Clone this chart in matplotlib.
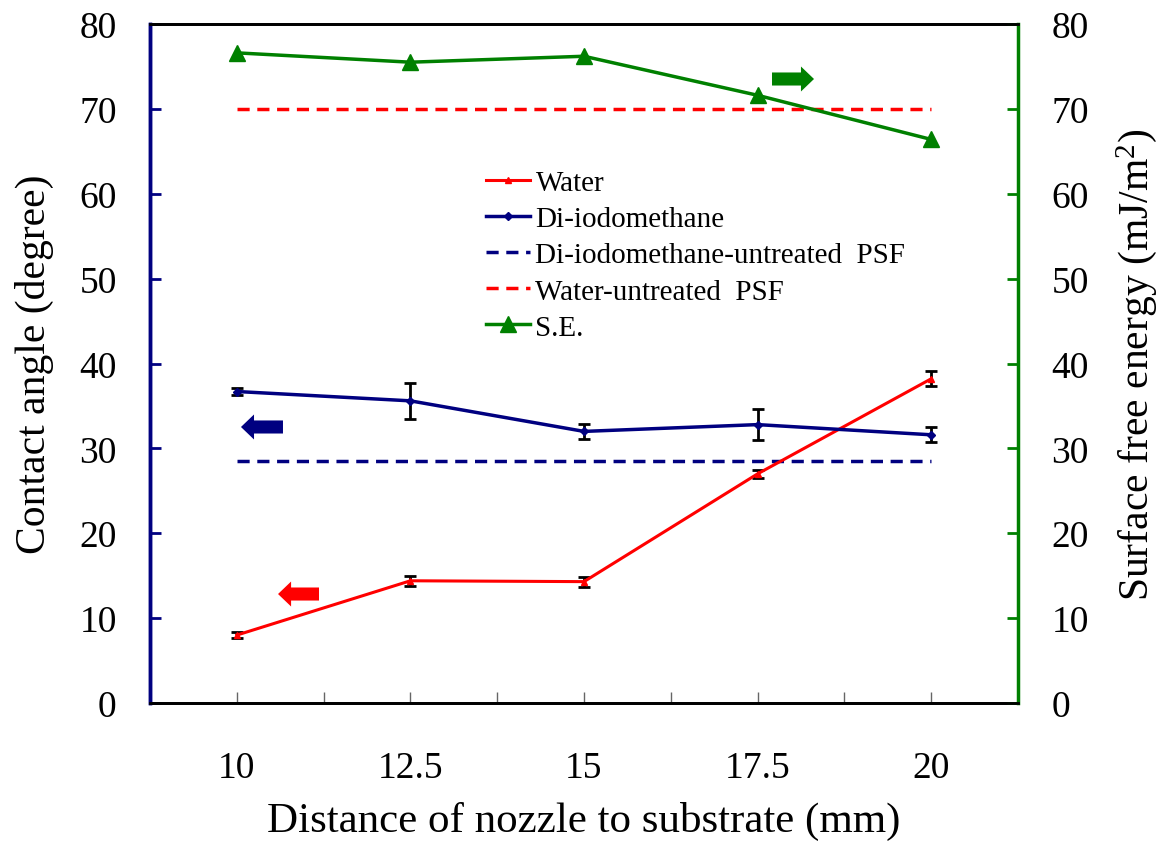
import matplotlib
matplotlib.use("Agg")
import matplotlib.pyplot as plt
from matplotlib.lines import Line2D
import numpy as np

plt.rcParams['font.family'] = ['Liberation Serif', 'DejaVu Serif']
plt.rcParams['mathtext.fontset'] = 'custom'
plt.rcParams['mathtext.rm'] = 'Liberation Serif'
plt.rcParams['mathtext.it'] = 'Liberation Serif:italic'

distance = [10, 12.5, 15, 17.5, 20]
water = [8.0, 14.4, 14.3, 27.0, 38.2]
water_err = [0.4, 0.6, 0.6, 0.5, 0.9]
diiodo = [36.7, 35.6, 32.0, 32.8, 31.6]
diiodo_err = [0.4, 2.1, 0.9, 1.8, 0.9]
diiodo_untreated = [28.5, 28.5, 28.5, 28.5, 28.5]
water_untreated = [70, 70, 70, 70, 70]
surface_energy = [76.6, 75.5, 76.2, 71.6, 66.4]
tick_labels = ['10', '12.5', '15', '17.5', '20']

RED = '#FF0000'
BLUE = '#000080'
GREEN = '#008000'
DASH = (0, (3.5, 2.2))

fig = plt.figure(figsize=(11.66, 8.45), dpi=100)
ax = fig.add_axes([150/1166, 1-704/845, 868/1166, 679/845])
ax2 = ax.twinx()

ax.errorbar(distance, water, yerr=water_err, color=RED, lw=2.2, marker='^', ms=5,
            ecolor='black', elinewidth=2, capsize=4, capthick=2, zorder=3)
ax.errorbar(distance, diiodo, yerr=diiodo_err, color=BLUE, lw=2.5, marker='D', ms=4,
            ecolor='black', elinewidth=2, capsize=4, capthick=2, zorder=3)
ax.plot(distance, diiodo_untreated, color=BLUE, lw=2.5, ls=DASH)
ax.plot(distance, water_untreated, color=RED, lw=2.5, ls=DASH)
ax2.plot(distance, surface_energy, color=GREEN, lw=2.5, marker='^', ms=11)

ax.set_xlim(8.75, 21.25)
ax.set_ylim(0, 80)
ax2.set_ylim(0, 80)
ticks = np.arange(10, 20.01, 1.25)
ax.set_xticks(ticks)
ax.set_xticklabels([tick_labels[distance.index(t)] if t in distance else '' for t in ticks])
ax.set_yticks(range(0, 81, 10))
ax2.set_yticks(range(0, 81, 10))

ax.tick_params(axis='x', direction='in', length=8, width=1, color='#666666',
               labelsize=27, pad=34)
ax.tick_params(axis='y', direction='in', length=8, width=2, color=BLUE,
               labelsize=27, pad=24)
ax2.tick_params(axis='y', direction='in', length=8, width=2, color=GREEN,
                labelsize=27, pad=24)

for a in (ax, ax2):
    a.spines['top'].set_color('black')
    a.spines['bottom'].set_color('black')
    a.spines['top'].set_linewidth(2)
    a.spines['bottom'].set_linewidth(2)
ax2.spines['left'].set_color(BLUE)
ax2.spines['left'].set_linewidth(2.5)
ax2.spines['right'].set_color(GREEN)
ax2.spines['right'].set_linewidth(2.5)
ax.spines['left'].set_color(BLUE)
ax.spines['left'].set_linewidth(2.5)
ax.spines['right'].set_visible(False)

ax.set_xlabel('Distance of nozzle to substrate (mm)', fontsize=31, labelpad=12)
ax.set_ylabel('Contact angle (degree)', fontsize=30, labelpad=18)
ax2.set_ylabel('Surface free energy (mJ/m$^{2}$)', fontsize=30, labelpad=18)

handles = [
    Line2D([], [], color=RED, lw=2.2, marker='^', ms=5),
    Line2D([], [], color=BLUE, lw=2.5, marker='D', ms=4),
    Line2D([], [], color=BLUE, lw=2.5, ls=DASH),
    Line2D([], [], color=RED, lw=2.5, ls=DASH),
    Line2D([], [], color=GREEN, lw=2.5, marker='^', ms=11),
]
labels = ['Water', 'Di-iodomethane', 'Di-iodomethane-untreated  PSF',
          'Water-untreated  PSF', 'S.E.']
ax2.legend(handles, labels, loc='upper left', bbox_to_anchor=(0.387, 0.785),
           frameon=False, fontsize=21, handlelength=1.5, handletextpad=0.2,
           labelspacing=0.33, borderpad=0, borderaxespad=0)

def arrow(a, tip, tail, color):
    a.annotate('', xy=tip, xytext=tail, xycoords='axes fraction', textcoords='axes fraction',
               arrowprops=dict(arrowstyle='simple,head_length=0.47,head_width=0.9,tail_width=0.47',
                               color=color, mutation_scale=20, shrinkA=0, shrinkB=0, lw=0))

arrow(ax2, (0.1048, 0.4065), (0.1532, 0.4065), BLUE)
arrow(ax2, (0.1475, 0.1605), (0.1947, 0.1605), RED)
arrow(ax2, (0.7650, 0.919), (0.7166, 0.919), GREEN)

fig.savefig('out.png', dpi=100)
